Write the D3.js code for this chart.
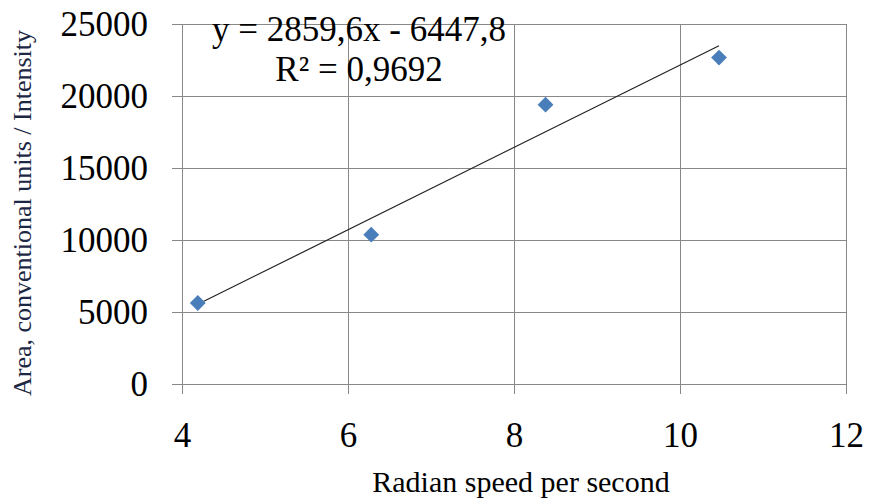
<!DOCTYPE html>
<html>
<meta charset="utf-8">
<style>
body { margin: 0; background: #fff; }
svg { display: block; }
.grid line { stroke: #888; stroke-width: 1; }
.axis path { display: none; }
.axis line { stroke: #888; }
.trend { stroke: #222; stroke-width: 1.2; fill: none; }
.pt { fill: #4a7ebb; }
</style>
<body>
<svg width="869" height="499"></svg>
<script src="https://cdn.jsdelivr.net/npm/d3@7"></script>
<script>

// radian speed (rad/s) and measured area
var speeds = [4.19, 6.28, 8.38, 10.47];
var areas = [5625, 10370, 19400, 22670];
var xTicks = [4, 6, 8, 10, 12];
var yTicks = [0, 5000, 10000, 15000, 20000, 25000];
var slope = 2859.6, intercept = -6447.8;
var eqLines = ["y = 2859,6x - 6447,8", "R\u00b2 = 0,9692"];

var serif = "Liberation Serif";

var svg = d3.select("svg");
var margin = {left: 182, right: 23, top: 24, bottom: 115};
var width = 869 - margin.left - margin.right,
    height = 499 - margin.top - margin.bottom;

var x = d3.scaleLinear().domain([4, 12]).range([0, width]);
var y = d3.scaleLinear().domain([0, 25000]).range([height, 0]);

var g = svg.append("g").attr("transform", "translate(" + margin.left + "," + margin.top + ")");

// gridlines
g.append("g").attr("class", "grid")
  .selectAll("line.h").data(yTicks).enter().append("line")
  .attr("x1", 0).attr("x2", width)
  .attr("y1", d => Math.round(y(d)) + 0.5).attr("y2", d => Math.round(y(d)) + 0.5);
g.append("g").attr("class", "grid")
  .selectAll("line.v").data(xTicks).enter().append("line")
  .attr("y1", 0).attr("y2", height)
  .attr("x1", d => Math.round(x(d)) + 0.5).attr("x2", d => Math.round(x(d)) + 0.5);

// axes
var xAxis = g.append("g").attr("class", "axis")
  .attr("transform", "translate(0," + height + ")")
  .call(d3.axisBottom(x).tickValues(xTicks).tickSize(10).tickPadding(28).tickFormat(d3.format("d")));
var yAxis = g.append("g").attr("class", "axis")
  .call(d3.axisLeft(y).tickValues(yTicks).tickSize(10).tickPadding(24).tickFormat(d3.format("d")));
[xAxis, yAxis].forEach(function(a) {
  a.selectAll("text")
    .style("font-family", serif)
    .style("font-size", "35px")
    .style("fill", "#000");
});

// trend line over the data range
var xr = d3.extent(speeds);
g.append("line").attr("class", "trend")
  .attr("x1", x(xr[0])).attr("y1", y(slope * xr[0] + intercept))
  .attr("x2", x(xr[1])).attr("y2", y(slope * xr[1] + intercept));

// diamonds
g.selectAll("path.pt").data(speeds).enter().append("path")
  .attr("class", "pt")
  .attr("d", d3.symbol().type(d3.symbolDiamond2).size(160))
  .attr("transform", (d, i) => "translate(" + x(d) + "," + y(areas[i]) + ")");

// equation
g.selectAll("text.eq").data(eqLines).enter().append("text")
  .attr("class", "eq")
  .attr("x", 177).attr("y", (d, i) => 17 + i * 40)
  .attr("text-anchor", "middle")
  .style("font-family", serif)
  .style("font-size", "35px")
  .text(d => d);

// axis titles
svg.append("text")
  .attr("x", 521).attr("y", 492)
  .attr("text-anchor", "middle")
  .style("font-family", serif)
  .style("font-size", "30px")
  .text("Radian speed per second");
svg.append("text")
  .attr("transform", "translate(31,213) rotate(-90)")
  .attr("text-anchor", "middle")
  .style("font-family", serif)
  .style("font-size", "26px")
  .style("fill", "#1c2744")
  .text("Area, conventional units / Intensity");

</script>
</body>
</html>
